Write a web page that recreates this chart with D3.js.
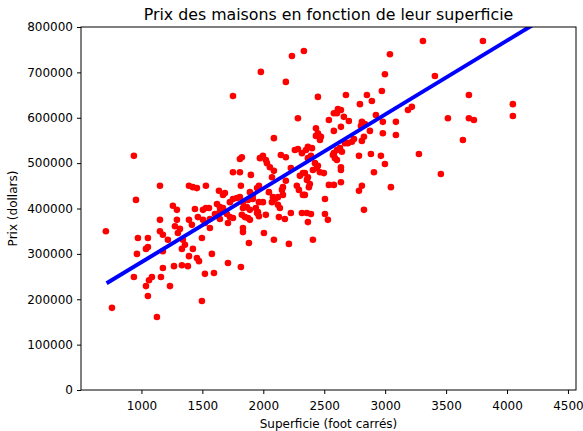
<!DOCTYPE html>
<html>
<head>
<meta charset="utf-8">
<script src="https://cdn.jsdelivr.net/npm/d3@7"></script>
<style>
  body { margin: 0; background: #fff; }
  svg { display: block; font-family: "DejaVu Sans", sans-serif; }
</style>
</head>
<body>
<div id="chart"></div>
<script>
// Scatter of house prices vs surface, with fitted line

// surface in square feet
const superficie = [
  938,1152,1390,1422,1455,955,1258,1291,1439,1152,
  1291,1390,1275,1316,708,1152,1176,1299,971,1053,
  1217,1340,1357,1053,1037,1176,1332,1422,963,1390,
  1455,1267,1332,1381,1176,938,1086,1062,1037,1160,
  1234,1053,758,1127,1496,1463,1414,1505,1496,1472,
  1578,1521,1595,
  1980,2185,1751,2284,2087,2144,2185,1824,1808,1972,
  1997,2021,2030,2054,2259,2284,2317,1751,1808,1898,
  2087,2071,2226,2300,2325,1529,1816,1964,1948,2161,
  2153,2185,2275,2292,1636,1669,1685,1890,1915,2046,
  2079,2120,2161,2325,1751,1783,1808,1726,1833,1874,
  1915,1964,1997,2071,2095,1644,1669,1833,1865,1890,
  1939,1956,2120,2136,1529,1554,1505,1603,1628,1644,
  1701,1726,1751,1824,1849,1874,1948,1964,2021,2128,
  2177,2226,2317,1562,1521,1562,1710,1890,1833,1833,
  2005,2087,1882,2210,1710,1816,1620,1644,
  2235,2333,3039,2998,2973,2448,2678,2850,2891,2793,
  2612,2637,2604,2579,2661,2702,2538,2924,2981,3088,
  2809,2834,2801,2637,2579,2432,2448,2456,2473,2432,
  2875,2981,3088,2465,2826,2809,2744,2727,2694,2670,
  2629,2604,2579,2366,2399,2350,2645,2571,2588,2604,
  2785,2883,2965,2998,2391,2366,2424,2448,2440,2407,
  2465,2497,2637,2637,2341,2366,2358,2908,2538,2579,
  2637,2382,2374,2809,2785,3047,2341,2506,2358,2391,
  2506,2530,2366,2826,2407,
  3310,3802,3408,3219,3187,3687,4048,4048,3515,3687,3728,3638,3277,3457
];

// price in thousands of dollars
const prixMilliers = [
  516,450,450,447,445,419,406,397,399,375,
  375,375,361,355,350,350,342,346,335,335,
  331,331,320,315,311,306,311,311,300,295,
  291,273,275,273,269,249,249,242,229,249,
  229,207,181,161,196,381,364,375,335,284,
  300,256,258,
  701,679,648,599,555,518,513,513,509,511,
  516,507,500,491,529,531,522,480,480,474,
  483,469,489,472,478,450,450,450,445,447,
  441,461,450,441,439,430,434,436,430,436,
  425,425,430,430,421,423,425,414,414,419,
  421,414,414,414,421,403,401,401,403,397,
  401,392,408,401,401,401,397,388,383,377,
  388,381,379,386,381,379,390,383,386,381,
  377,390,390,377,368,357,368,375,357,348,
  346,331,324,322,280,271,410,394,
  736,747,740,696,659,646,650,650,637,630,
  619,617,610,610,602,593,595,606,591,591,
  591,586,582,580,571,577,566,560,558,560,
  571,566,562,551,558,549,553,547,544,544,
  533,529,522,536,533,529,525,518,511,507,
  516,520,516,498,516,511,500,494,489,485,
  480,478,491,485,478,469,463,480,452,452,
  458,454,447,450,439,447,430,421,390,388,
  388,375,370,397,331,
  769,769,692,624,617,650,630,604,599,599,595,551,520,476
];

// fitted line: prix = intercept + pente * superficie
const pente = 162.8;
const ordonnee = 118860;
const ligneX = [714, 4390];

const xTicks = [1000, 1500, 2000, 2500, 3000, 3500, 4000, 4500];
const yTicks = [0, 100000, 200000, 300000, 400000, 500000, 600000, 700000, 800000];

const points = superficie.map((s, i) => ({ x: s, y: prixMilliers[i] * 1000 }));
const ligne = ligneX.map(s => ({ x: s, y: ordonnee + pente * s }));

const width = 583, height = 431;
const margin = { top: 27, right: 7, bottom: 41, left: 81 };

const svg = d3.select("#chart").append("svg")
  .attr("width", width)
  .attr("height", height);

const x = d3.scaleLinear().domain([504, 4566]).range([margin.left, width - margin.right]);
const y = d3.scaleLinear().domain([0, 800000]).range([height - margin.bottom, margin.top]);

svg.append("defs").append("clipPath").attr("id", "zone")
  .append("rect")
  .attr("x", margin.left).attr("y", margin.top)
  .attr("width", width - margin.left - margin.right)
  .attr("height", height - margin.top - margin.bottom);

const plot = svg.append("g").attr("clip-path", "url(#zone)");

// points first, line drawn on top
plot.append("g").selectAll("circle")
  .data(points)
  .enter().append("circle")
  .attr("cx", d => x(d.x))
  .attr("cy", d => y(d.y))
  .attr("r", 3.3)
  .attr("fill", "#ff0000");

plot.append("path")
  .datum(ligne)
  .attr("fill", "none")
  .attr("stroke", "#0000ff")
  .attr("stroke-width", 4)
  .attr("d", d3.line().x(d => x(d.x)).y(d => y(d.y)));

// axes
const xAxis = svg.append("g")
  .attr("transform", `translate(0,${height - margin.bottom})`)
  .call(d3.axisBottom(x).tickValues(xTicks).tickFormat(d3.format("d")).tickSize(4).tickPadding(7).tickSizeOuter(0));

const yAxis = svg.append("g")
  .attr("transform", `translate(${margin.left},0)`)
  .call(d3.axisLeft(y).tickValues(yTicks).tickFormat(d3.format("d")).tickSize(4).tickPadding(4).tickSizeOuter(0));

[xAxis, yAxis].forEach(a => {
  a.selectAll("text").attr("font-size", 12).attr("fill", "#000").attr("font-family", "DejaVu Sans");
  a.selectAll("line").attr("stroke", "#000");
  a.select(".domain").remove();
});

// frame
svg.append("rect")
  .attr("x", margin.left).attr("y", margin.top)
  .attr("width", width - margin.left - margin.right)
  .attr("height", height - margin.top - margin.bottom)
  .attr("fill", "none")
  .attr("stroke", "#000")
  .attr("stroke-width", 1);

// title and labels
svg.append("text")
  .attr("x", (margin.left + width - margin.right) / 2)
  .attr("y", 20)
  .attr("text-anchor", "middle")
  .attr("font-size", 15.8)
  .text("Prix des maisons en fonction de leur superficie");

svg.append("text")
  .attr("x", (margin.left + width - margin.right) / 2)
  .attr("y", 428)
  .attr("text-anchor", "middle")
  .attr("font-size", 12)
  .text("Superficie (foot carrés)");

svg.append("text")
  .attr("transform", `translate(17,${(margin.top + height - margin.bottom) / 2}) rotate(-90)`)
  .attr("text-anchor", "middle")
  .attr("font-size", 12)
  .text("Prix (dollars)");
</script>
</body>
</html>
